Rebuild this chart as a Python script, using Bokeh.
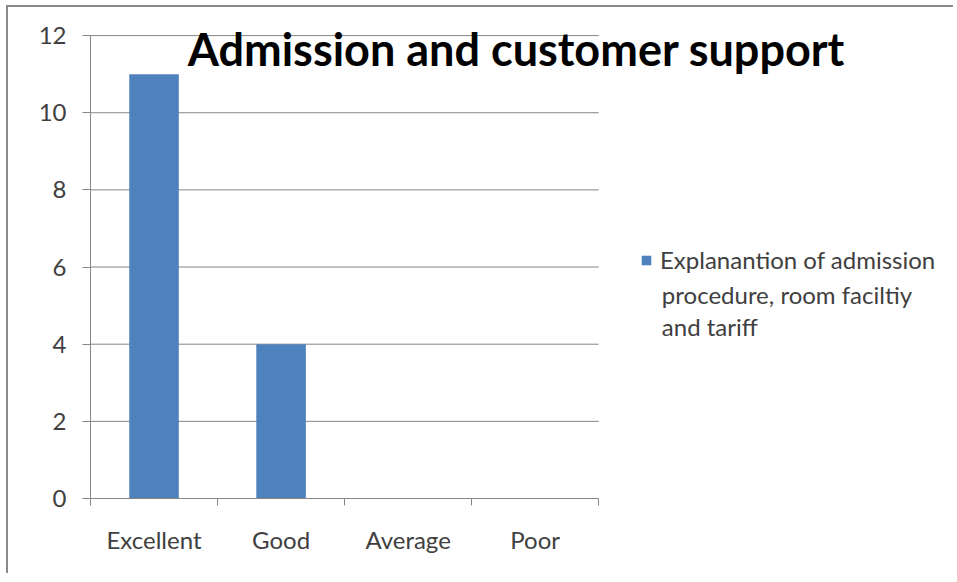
from bokeh.plotting import figure
from bokeh.models import (Range1d, FixedTicker, Label, Legend, LegendItem, ColumnDataSource)
from bokeh.embed import file_html
from bokeh.resources import INLINE

categories = ["Excellent", "Good", "Average", "Poor"]
values = [11, 4, 0, 0]
series_lines = ["Explanantion of admission", "procedure, room faciltiy", "and tariff"]
title_text = "Admission and customer support"
y_ticks = [0, 2, 4, 6, 8, 10, 12]

FONT = "Lato"
GRID = "#868686"
TXT = "#404040"
BAR = "#4F81BD"

W, H = 945, 566
LEFT, RIGHT, TOP = 82, 12, 8
PLOT_H = 461                      # pixel height of the 0..12 value area
EXTRA_TOP = 20                    # frame room above the top gridline (for the title)
FRAME_H = PLOT_H + EXTRA_TOP
BOTTOM = H - TOP - FRAME_H
PLOT_W = 507                      # pixel width of the category area
FRAME_W = W - LEFT - RIGHT        # frame spans nearly whole width (for title/legend)
n = len(categories)
x_end = n * FRAME_W / PLOT_W
y_max = y_ticks[-1]
px_per_y = PLOT_H / y_max

p = figure(width=W, height=H, x_range=Range1d(0, x_end),
           y_range=Range1d(0, y_max + EXTRA_TOP / px_per_y),
           output_backend="svg", toolbar_location=None,
           min_border_left=LEFT, min_border_right=RIGHT, min_border_top=TOP,
           min_border_bottom=BOTTOM)
p.margin = (0, 0, 0, 0)
p.styles = {"box-sizing": "content-box",
            "border-top": "2px solid #8a8a8a", "border-left": "2px solid #8a8a8a",
            "border-right": "0px none white", "border-bottom": "0px none white",
            "margin-top": "5px", "margin-left": "6px", "overflow": "hidden"}
p.outline_line_color = None
p.background_fill_color = "white"
p.border_fill_color = "white"
p.xgrid.grid_line_color = None
p.ygrid.grid_line_color = None

# horizontal gridlines limited to the category area
p.segment(x0=0, x1=n, y0=y_ticks, y1=y_ticks, line_color=GRID, line_width=1)

centers = [i + 0.5 for i in range(n)]
src = ColumnDataSource(dict(x=centers, cat=categories, val=values))
r = p.vbar(x="x", top="val", width=0.39, source=src, fill_color=BAR, line_color=None)

# y axis
ya = p.yaxis[0]
ya.bounds = (0, y_max)
ya.ticker = FixedTicker(ticks=y_ticks)
ya.axis_line_color = GRID
ya.major_tick_line_color = GRID
ya.major_tick_out = 8
ya.major_tick_in = 0
ya.minor_tick_line_color = None
ya.major_label_text_font = FONT
ya.major_label_text_font_size = "24px"
ya.major_label_text_color = TXT
ya.major_label_standoff = 16

# x axis: labels at centres, tick marks at category boundaries
xa = p.xaxis[0]
xa.bounds = (0, n)
xa.ticker = FixedTicker(ticks=centers, minor_ticks=list(range(n + 1)))
xa.major_label_overrides = {c: lab for c, lab in zip(centers, categories)}
xa.axis_line_color = GRID
xa.major_tick_line_color = None
xa.minor_tick_line_color = GRID
xa.minor_tick_out = 7
xa.minor_tick_in = 0
xa.major_tick_out = 7
xa.major_label_text_font = FONT
xa.major_label_text_font_size = "24px"
xa.major_label_text_color = TXT
xa.major_label_standoff = 19

# title overlapping plot area
t = Label(x=3.353, y=11.66, text=title_text, text_font=FONT,
          text_font_style="bold", text_font_size="45px", text_color="black",
          text_align="center", text_baseline="middle")
p.add_layout(t)

# legend: first line with the swatch, continuation lines as labels
leg = Legend(items=[LegendItem(label=series_lines[0], renderers=[r])],
             location=(550, 224), label_text_font=FONT, label_text_font_size="24px",
             label_text_color=TXT, glyph_width=12, glyph_height=12, label_standoff=8,
             border_line_color=None, background_fill_alpha=0, padding=0, margin=0)
p.add_layout(leg)

for k, line in enumerate(series_lines[1:], start=1):
    p.add_layout(Label(x=n * (660 - 90) / PLOT_W, y=(498 - 262 - 32.5 * k) / px_per_y,
                       text=line, text_font=FONT, text_font_size="24px", text_color=TXT,
                       text_align="left", text_baseline="middle"))

open("out.html", "w").write(file_html(p, INLINE))
